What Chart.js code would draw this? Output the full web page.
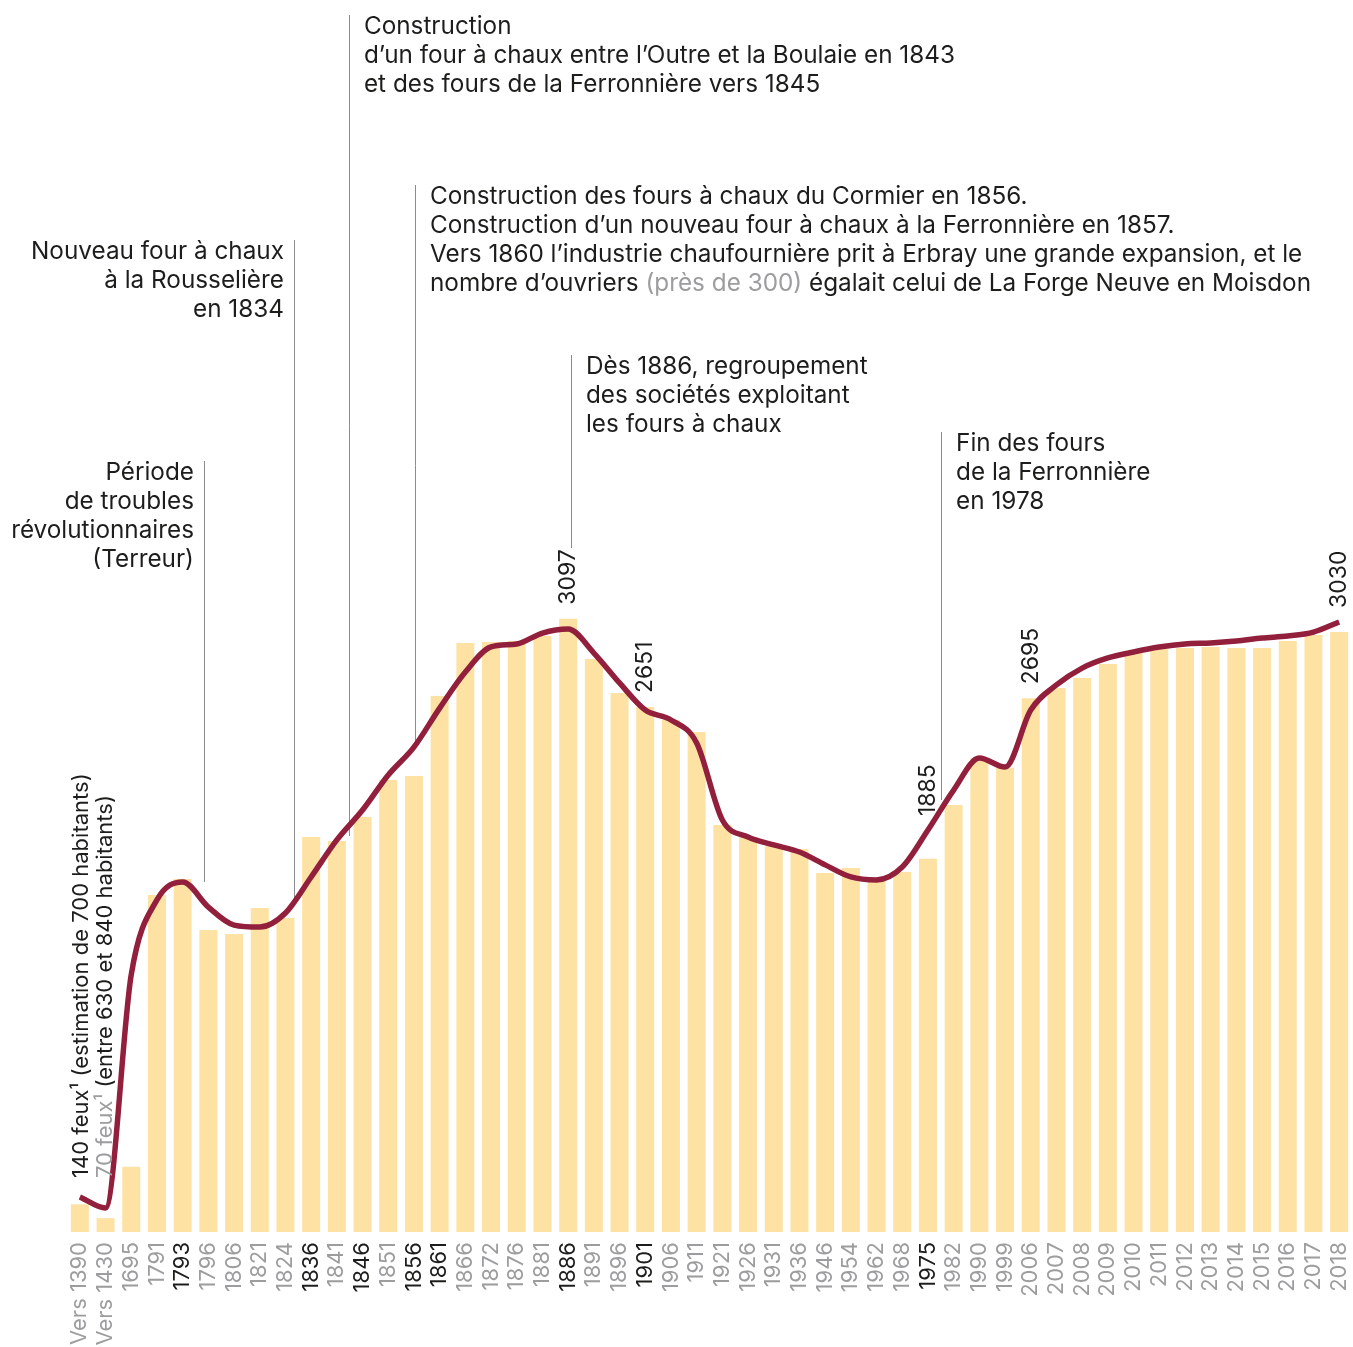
<!DOCTYPE html>
<html lang="fr">
<head>
<meta charset="utf-8">
<title>Erbray - population</title>
<script src="https://cdn.jsdelivr.net/npm/chart.js@4.4.0/dist/chart.umd.min.js"></script>
<style>
  html, body { margin: 0; padding: 0; background: #fff; }
  #wrap { width: 1353px; height: 1347px; }
</style>
</head>
<body>
<div id="wrap"><canvas id="popChart" width="1353" height="1347"></canvas></div>
<script>
/* ============================================================
   Données
   ============================================================ */
const categories = ['Vers 1390', 'Vers 1430', '1695', '1791', '1793', '1796', '1806', '1821', '1824', '1836',
  '1841', '1846', '1851', '1856', '1861', '1866', '1872', '1876', '1881', '1886',
  '1891', '1896', '1901', '1906', '1911', '1921', '1926', '1931', '1936', '1946',
  '1954', '1962', '1968', '1975', '1982', '1990', '1999', '2006', '2007', '2008',
  '2009', '2010', '2011', '2012', '2013', '2014', '2015', '2016', '2017', '2018'];

// habitants (feux pour les deux premières dates)
const population = [140, 70, 330, 1702, 1783, 1525, 1505, 1636, 1586, 1995,
  1975, 2096, 2283, 2303, 2707, 2975, 2980, 2985, 3010, 3097,
  2894, 2722, 2651, 2586, 2525, 2056, 1995, 1949, 1934, 1813,
  1838, 1780, 1818, 1885, 2157, 2394, 2345, 2695, 2747, 2798,
  2869, 2929, 2944, 2949, 2954, 2949, 2949, 2985, 3015, 3030];

// courbe de tendance (lissée)
const trend = [177, 121, 1300, 1677, 1768, 1641, 1550, 1540, 1611, 1793,
  1980, 2131, 2308, 2449, 2646, 2828, 2955, 2970, 3025, 3045,
  2924, 2773, 2636, 2586, 2470, 2081, 1995, 1955, 1919, 1854,
  1793, 1778, 1843, 2030, 2232, 2394, 2348, 2636, 2763, 2848,
  2899, 2929, 2954, 2970, 2975, 2985, 3000, 3010, 3030, 3081];

const darkTicks = ['1793', '1836', '1846', '1856', '1861', '1886', '1901', '1975'];
const labelledYears = ['1886', '1901', '1975', '2006', '2018'];

/* ============================================================
   Annotations (mise en page)
   ============================================================ */
const DARK = '#1d1d1b';
const GREY = '#9d9d9f';
const FONT = 'Inter, "Open Sans", sans-serif';

const notes = [
  { at: 4.83, top: 461, bottom: 882, side: 'left',
    lines: [[['Période', DARK]], [['de troubles', DARK]], [['révolutionnaires', DARK]], [['(Terreur)', DARK]]] },
  { at: 8.33, top: 240, bottom: 900, side: 'left',
    lines: [[['Nouveau four à chaux', DARK]], [['à la Rousselière', DARK]], [['en 1834', DARK]]] },
  { at: 10.47, top: 15, bottom: 836, side: 'right',
    lines: [[['Construction', DARK]],
            [['d\u2019un four à chaux entre l\u2019Outre et la Boulaie en 1843', DARK]],
            [['et des fours de la Ferronnière vers 1845', DARK]]] },
  { at: 13.04, top: 185, bottom: 746, side: 'right',
    lines: [[['Construction des fours à chaux du Cormier en 1856.', DARK]],
            [['Construction d\u2019un nouveau four à chaux à la Ferronnière en 1857.', DARK]],
            [['Vers 1860 l\u2019industrie chaufournière prit à Erbray une grande expansion, et le', DARK]],
            [['nombre d\u2019ouvriers ', DARK], ['(près de 300)', GREY], [' égalait celui de La Forge Neuve en Moisdon', DARK]]] },
  { at: 19.11, top: 355, bottom: 548, side: 'right',
    lines: [[['Dès 1886, regroupement', DARK]], [['des sociétés exploitant', DARK]], [['les fours à chaux', DARK]]] },
  { at: 33.51, top: 432, bottom: 800, side: 'right',
    lines: [[['Fin des fours', DARK]], [['de la Ferronnière', DARK]], [['en 1978', DARK]]] }
];

const leftNotes = [
  { idx: 0, dx: 2, parts: [['140 feux\u00b9 (estimation de 700 habitants)', DARK]] },
  { idx: 1, dx: 0, parts: [['70 feux\u00b9', GREY], [' (entre 630 et 840 habitants)', DARK]] }
];

function drawParts(ctx, parts, x, y, align) {
  let total = 0;
  parts.forEach(p => { total += ctx.measureText(p[0]).width; });
  let cx = align === 'right' ? x - total : x;
  parts.forEach(p => {
    ctx.fillStyle = p[1];
    ctx.fillText(p[0], cx, y);
    cx += ctx.measureText(p[0]).width;
  });
}

const notesPlugin = {
  id: 'notes',
  beforeDatasetsDraw(chart) {
    const ctx = chart.ctx;
    const xs = chart.scales.x;
    ctx.save();
    ctx.strokeStyle = '#8c8c8c';
    ctx.lineWidth = 1;
    notes.forEach(n => {
      const x = Math.round(xs.getPixelForValue(n.at)) + 0.5;
      ctx.beginPath();
      ctx.moveTo(x, n.top);
      ctx.lineTo(x, n.bottom);
      ctx.stroke();
    });
    ctx.restore();
  },
  afterDatasetsDraw(chart) {
    const ctx = chart.ctx;
    const xs = chart.scales.x;
    const ys = chart.scales.y;
    ctx.save();
    ctx.textAlign = 'left';
    ctx.textBaseline = 'middle';
    ctx.font = '400 24.3px ' + FONT;

    // blocs de texte
    notes.forEach(n => {
      const x = xs.getPixelForValue(n.at);
      n.lines.forEach((parts, i) => {
        const y = n.top + 12 + i * 29;
        if (n.side === 'left') drawParts(ctx, parts, x - 10, y, 'right');
        else drawParts(ctx, parts, x + 15, y, 'left');
      });
    });

    // textes verticaux à gauche
    ctx.font = '400 22px ' + FONT;
    leftNotes.forEach(n => {
      const x = xs.getPixelForValue(n.idx) + n.dx;
      ctx.save();
      ctx.translate(x, 1178);
      ctx.rotate(-Math.PI / 2);
      drawParts(ctx, n.parts, 0, 0, 'left');
      ctx.restore();
    });

    // valeurs remarquables
    ctx.font = '400 23px ' + FONT;
    labelledYears.forEach(year => {
      const i = categories.indexOf(year);
      const top = Math.max(population[i], trend[i]);
      const x = xs.getPixelForValue(i);
      const y = ys.getPixelForValue(top) - 14;
      ctx.save();
      ctx.translate(x, y);
      ctx.rotate(-Math.PI / 2);
      ctx.fillStyle = DARK;
      ctx.fillText(String(population[i]), 0, 0);
      ctx.restore();
    });
    ctx.restore();
  }
};

/* ============================================================
   Graphique
   ============================================================ */
const ctx = document.getElementById('popChart').getContext('2d');
new Chart(ctx, {
  type: 'bar',
  data: {
    labels: categories,
    datasets: [
      {
        type: 'line',
        data: trend,
        borderColor: '#921f3c',
        borderWidth: 5.5,
        pointRadius: 0,
        cubicInterpolationMode: 'monotone',
        fill: false,
        order: 0
      },
      {
        data: population,
        backgroundColor: '#fde2a4',
        barPercentage: 0.7,
        categoryPercentage: 1,
        order: 1
      }
    ]
  },
  options: {
    responsive: false,
    animation: false,
    layout: { padding: { left: 67, right: 1, top: 0, bottom: 0 } },
    scales: {
      x: {
        grid: { display: false, drawTicks: false },
        border: { display: false },
        ticks: {
          autoSkip: false,
          minRotation: 90,
          maxRotation: 90,
          padding: 10,
          font: { family: FONT, size: 22 },
          color: c => darkTicks.includes(categories[c.index]) ? DARK : GREY
        },
        afterFit: s => {
          s.height = 115;
          s.paddingLeft = 0;
          s.paddingRight = 0;
        }
      },
      y: {
        display: false,
        min: 0,
        max: 6222
      }
    },
    plugins: {
      legend: { display: false },
      tooltip: { enabled: false }
    }
  },
  plugins: [notesPlugin]
});
</script>
</body>
</html>
